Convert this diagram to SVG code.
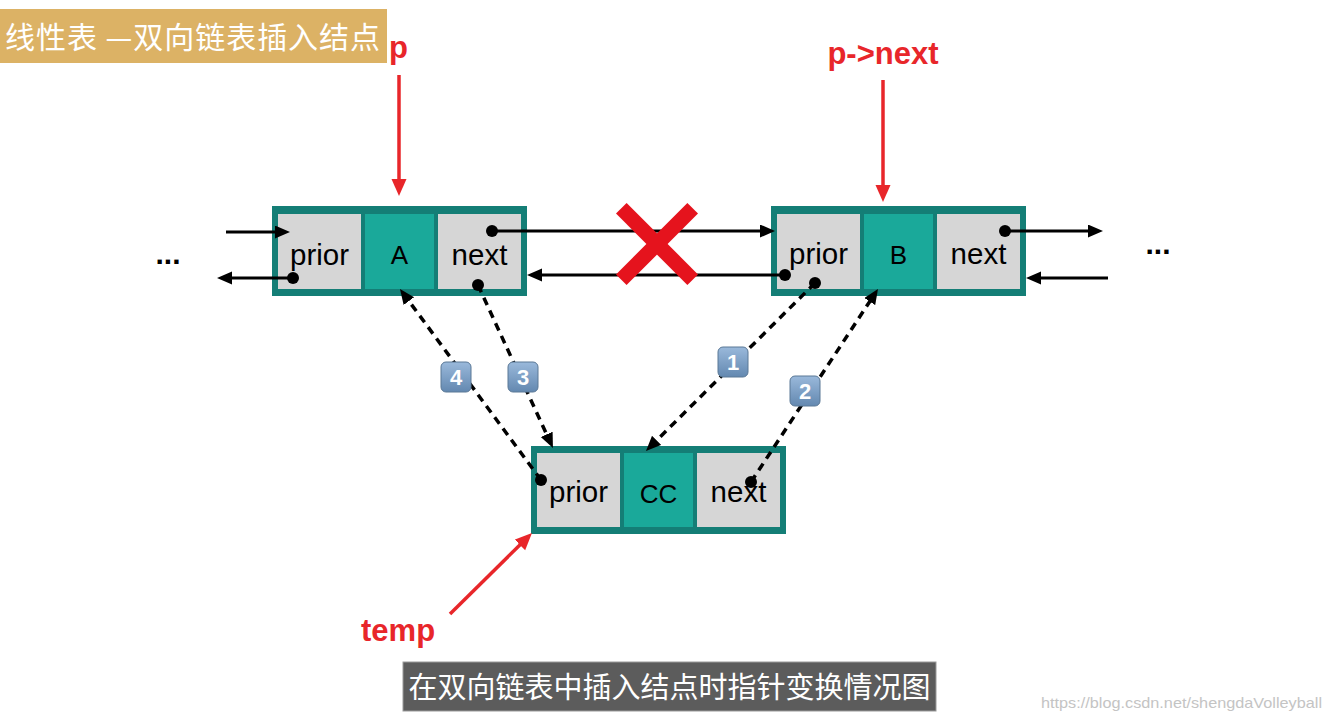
<svg xmlns="http://www.w3.org/2000/svg" width="1330" height="720" viewBox="0 0 1330 720">
<style>
.outer{fill:#147e76}
.cell{fill:#d6d6d6}
.mid{fill:#1aa99a}
.lbl{font-family:"Liberation Sans",Arial,sans-serif;font-size:29.5px;fill:#000;text-anchor:middle}
.mlbl{font-family:"Liberation Sans",Arial,sans-serif;font-size:26px;fill:#000;text-anchor:middle}
.red{font-family:"Liberation Sans",Arial,sans-serif;font-size:31px;font-weight:bold;fill:#e8262a}
.sl{stroke:#000;stroke-width:3;fill:none}
.dl{stroke:#000;stroke-width:3.5;fill:none;stroke-dasharray:8 6}
.rl{stroke:#e8262a;stroke-width:3.5;fill:none}
.dot{fill:#000}
.badge{fill:url(#bg);stroke:#5a7896;stroke-width:1}
.bn{font-family:"Liberation Sans",Arial,sans-serif;font-size:22px;font-weight:bold;fill:#fff;text-anchor:middle}
.cjk{font-family:"Noto Sans CJK SC",sans-serif;fill:#fff}
</style>
<defs>
<linearGradient id="bg" x1="0" y1="0" x2="0" y2="1">
<stop offset="0" stop-color="#9ab9db"/>
<stop offset="1" stop-color="#6388b0"/>
</linearGradient>
<marker id="ab" markerWidth="16" markerHeight="14" refX="1" refY="6.5" orient="auto" markerUnits="userSpaceOnUse">
<path d="M0,0 L15,6.5 L0,13 z" fill="#000"/>
</marker>
<marker id="ar" markerWidth="18" markerHeight="16" refX="1" refY="7.5" orient="auto" markerUnits="userSpaceOnUse">
<path d="M0,0 L17,7.5 L0,15 z" fill="#e8262a"/>
</marker>
</defs>
<rect width="1330" height="720" fill="#fff"/>

<g id="title">
<rect x="0" y="9" width="387" height="54" fill="#dcb265"/>
<text class="cjk" x="5" y="48" font-size="30" textLength="375" lengthAdjust="spacing">线性表 —双向链表插入结点</text>
</g>

<g id="nodeA">
<rect class="outer" x="272" y="206" width="255" height="90"/>
<rect class="cell" x="278" y="214" width="83" height="75"/>
<rect class="mid" x="365" y="214" width="69" height="75"/>
<rect class="cell" x="438" y="214" width="83" height="75"/>
<text class="lbl" x="319.5" y="265">prior</text>
<text class="mlbl" x="399.5" y="264">A</text>
<text class="lbl" x="479.5" y="265">next</text>
</g>

<g id="nodeB">
<rect class="outer" x="771" y="206" width="255" height="90"/>
<rect class="cell" x="777" y="214" width="83" height="75"/>
<rect class="mid" x="864" y="214" width="69" height="75"/>
<rect class="cell" x="937" y="214" width="83" height="75"/>
<text class="lbl" x="818.5" y="264">prior</text>
<text class="mlbl" x="898.5" y="264">B</text>
<text class="lbl" x="978.5" y="264">next</text>
</g>

<g id="nodeCC">
<rect class="outer" x="531" y="446" width="255" height="88"/>
<rect class="cell" x="537" y="453" width="83" height="74"/>
<rect class="mid" x="624" y="453" width="69" height="74"/>
<rect class="cell" x="697" y="453" width="83" height="74"/>
<text class="lbl" x="578.5" y="502">prior</text>
<text class="mlbl" x="658.5" y="503">CC</text>
<text class="lbl" x="738.5" y="502">next</text>
</g>

<g id="ellipsis">
<text x="168" y="264" font-family="Liberation Sans,Arial,sans-serif" font-size="30" font-weight="bold" text-anchor="middle">...</text>
<text x="1158" y="254" font-family="Liberation Sans,Arial,sans-serif" font-size="30" font-weight="bold" text-anchor="middle">...</text>
</g>

<g id="connectors">
<path class="sl" d="M226,232 H276" marker-end="url(#ab)"/>
<path class="sl" d="M293,278 H231" marker-end="url(#ab)"/>
<path class="sl" d="M492,231 H761" marker-end="url(#ab)"/>
<path class="sl" d="M785,275 H541" marker-end="url(#ab)"/>
<path class="sl" d="M1005,231 H1089" marker-end="url(#ab)"/>
<path class="sl" d="M1108,278 H1040" marker-end="url(#ab)"/>
<path class="dl" d="M541,480 L408.3,300.3" marker-end="url(#ab)"/>
<path class="dl" d="M478,285 L547.1,435.3" marker-end="url(#ab)"/>
<path class="dl" d="M815,283 L655.9,441.1" marker-end="url(#ab)"/>
<path class="dl" d="M751,482 L870.3,300.7" marker-end="url(#ab)"/>
<circle class="dot" cx="293" cy="278" r="6"/>
<circle class="dot" cx="492" cy="231" r="6"/>
<circle class="dot" cx="478" cy="285" r="6"/>
<circle class="dot" cx="785" cy="275" r="6"/>
<circle class="dot" cx="815" cy="283" r="6"/>
<circle class="dot" cx="1005" cy="231" r="6"/>
<circle class="dot" cx="541" cy="480" r="6"/>
<circle class="dot" cx="751" cy="482" r="6"/>
<path class="rl" d="M399,75 V180" marker-end="url(#ar)"/>
<path class="rl" d="M883,80 V186" marker-end="url(#ar)"/>
<path class="rl" d="M450,614 L520.6,544.2" marker-end="url(#ar)"/>
</g>

<g id="cross">
<line x1="621.3" y1="208.3" x2="692.7" y2="279.7" stroke="#e5131d" stroke-width="15"/>
<line x1="692.7" y1="208.3" x2="621.3" y2="279.7" stroke="#e5131d" stroke-width="15"/>
</g>

<g id="badges">
<rect class="badge" x="441" y="362" width="30" height="30" rx="5"/>
<text class="bn" x="456" y="385">4</text>
<rect class="badge" x="508" y="362" width="30" height="30" rx="5"/>
<text class="bn" x="523" y="385">3</text>
<rect class="badge" x="718" y="347" width="30" height="30" rx="5"/>
<text class="bn" x="733" y="370">1</text>
<rect class="badge" x="790" y="376" width="30" height="30" rx="5"/>
<text class="bn" x="805" y="399">2</text>
</g>

<g id="labels">
<text class="red" x="398.5" y="58" text-anchor="middle">p</text>
<text class="red" x="883" y="64" text-anchor="middle">p-&gt;next</text>
<text class="red" x="361" y="641">temp</text>
</g>

<g id="caption">
<rect x="403" y="662" width="533" height="49" fill="#5c5c5c" stroke="#9a9a9a" stroke-width="1"/>
<text class="cjk" x="669.5" y="698" font-size="29" text-anchor="middle">在双向链表中插入结点时指针变换情况图</text>
</g>

<text x="1041" y="708" font-family="Liberation Sans,Arial,sans-serif" font-size="15" fill="#c4c4c4" textLength="281" lengthAdjust="spacingAndGlyphs">https://blog.csdn.net/shengdaVolleyball</text>
</svg>
